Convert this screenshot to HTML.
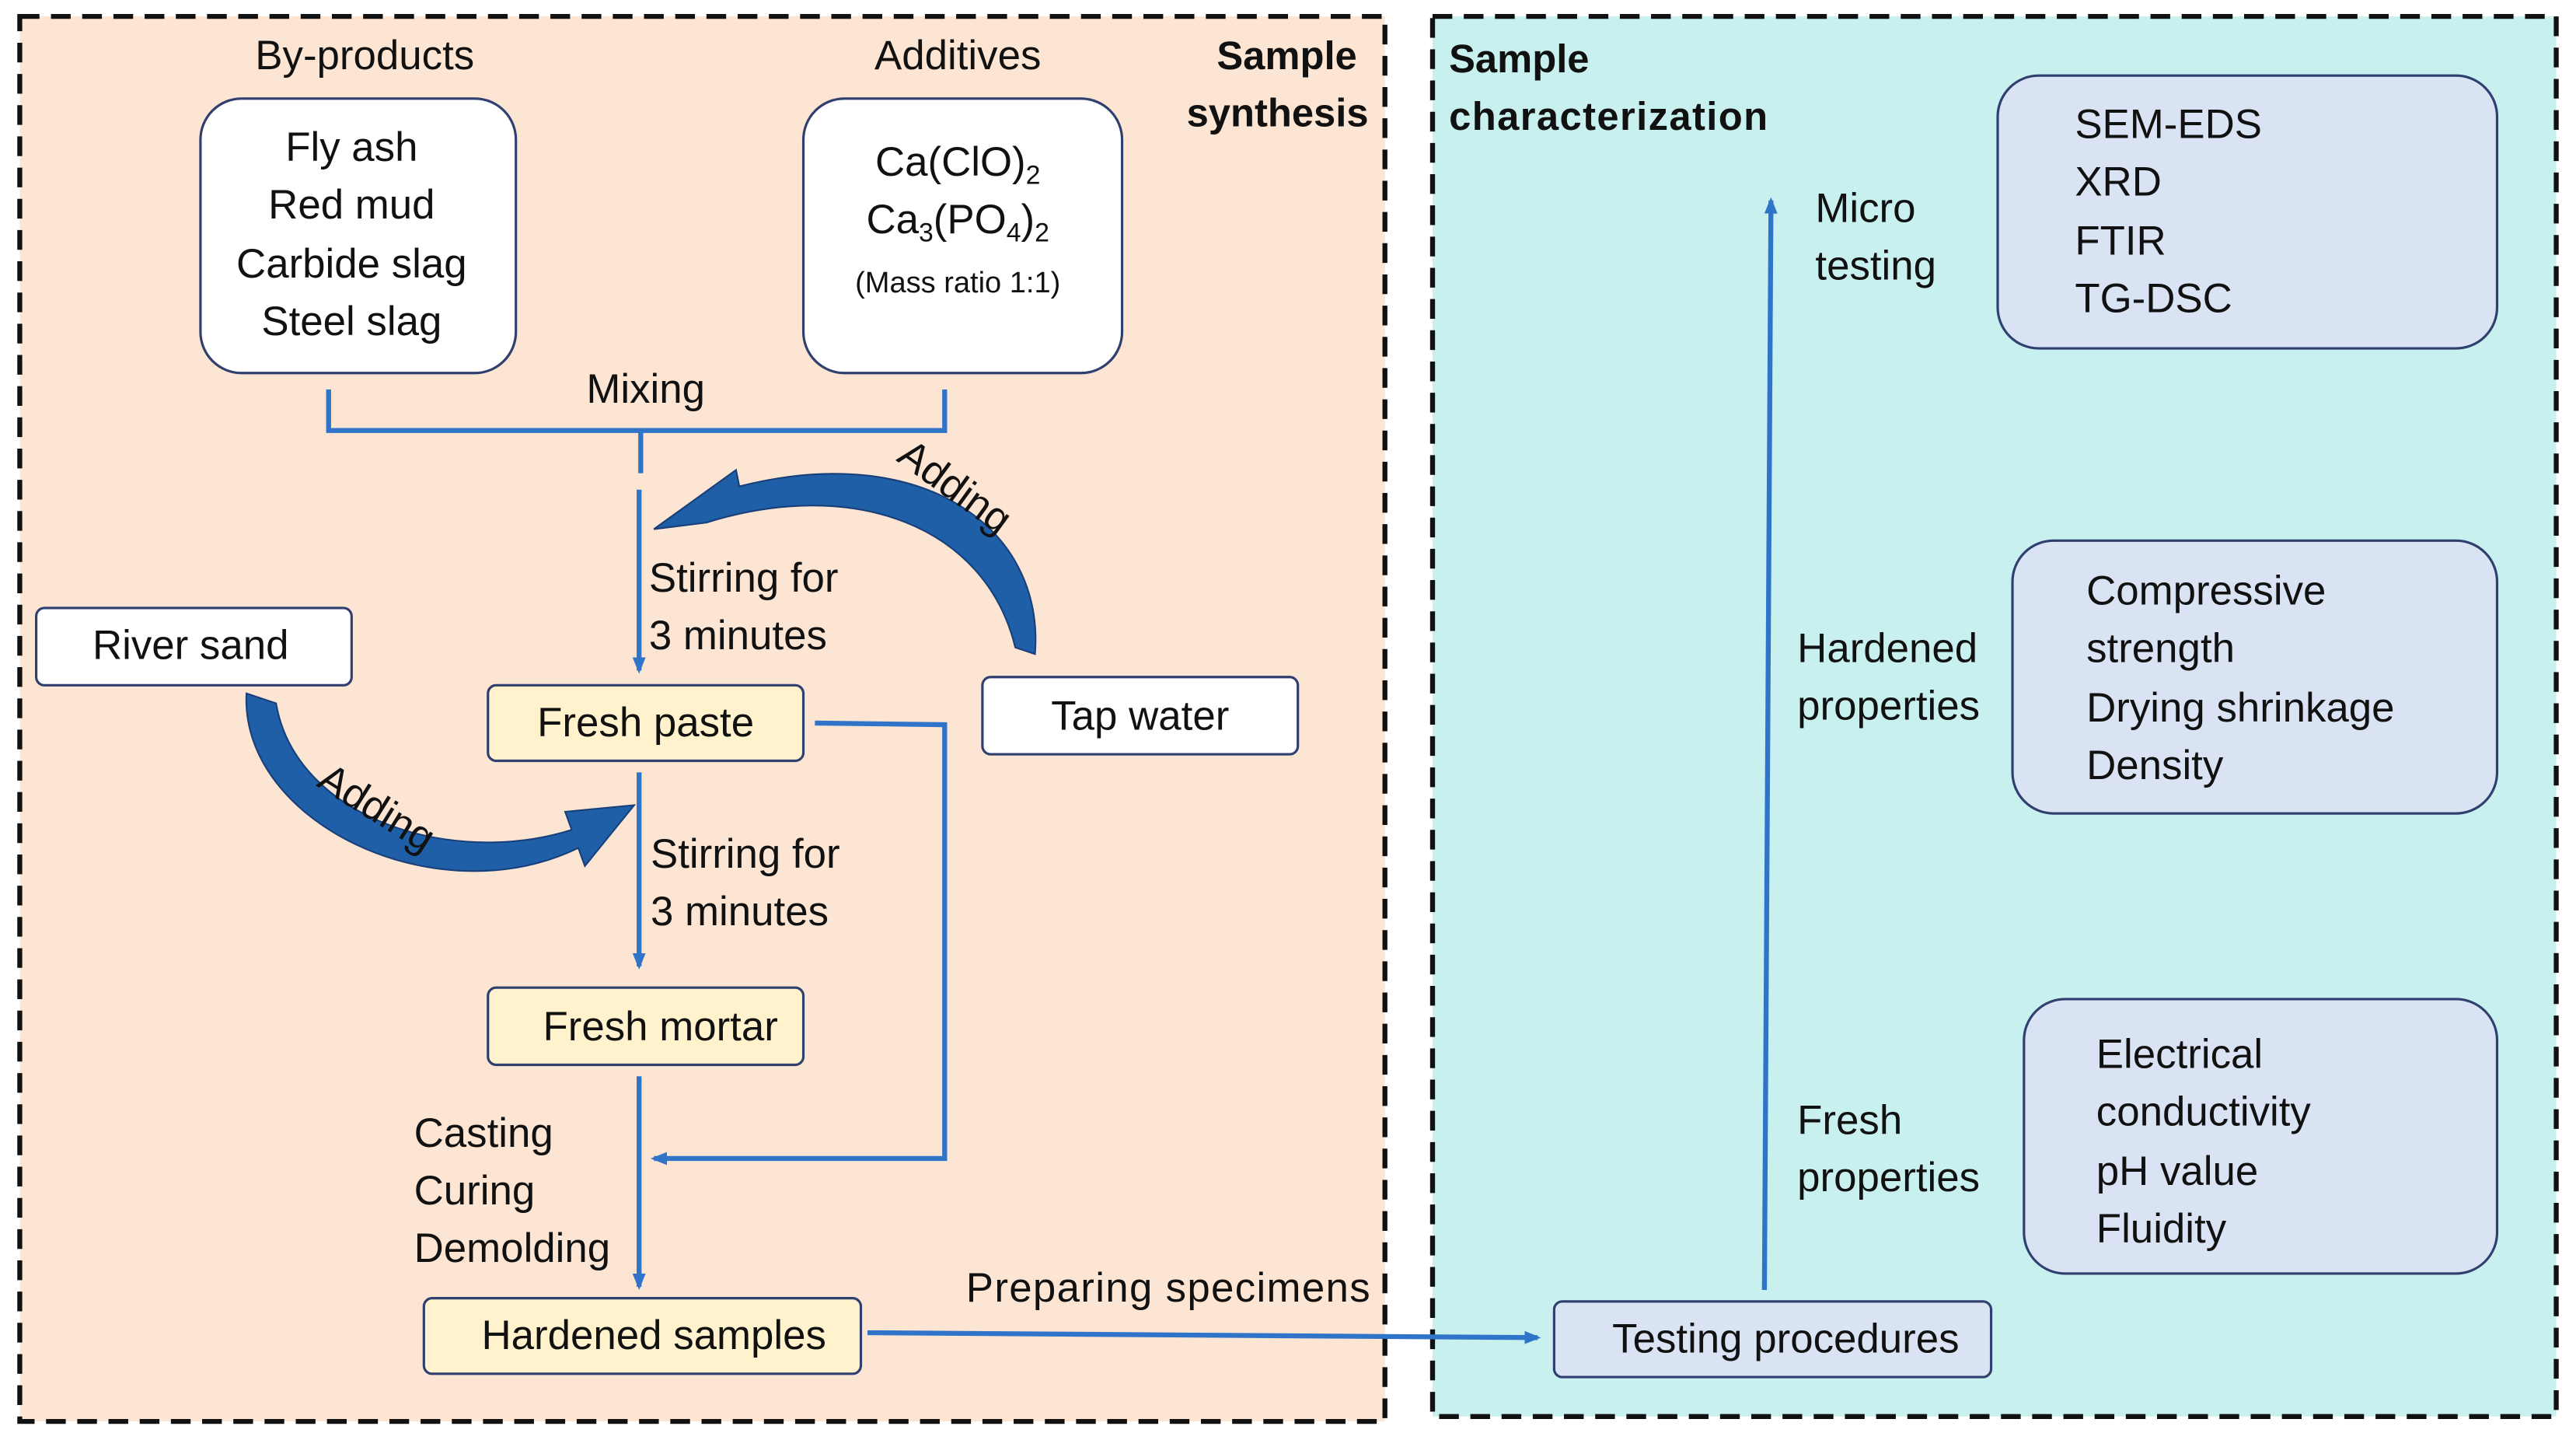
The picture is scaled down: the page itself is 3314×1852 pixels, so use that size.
<!DOCTYPE html>
<html><head><meta charset="utf-8"><style>
html,body{margin:0;padding:0;background:#fff;}
svg{display:block;}
text{font-family:"Liberation Sans",sans-serif;fill:#111;}
</style></head><body>
<svg width="3314" height="1852" viewBox="0 0 1568 876.3" xmlns="http://www.w3.org/2000/svg">
<defs>
<marker id="ah" markerWidth="10" markerHeight="10" refX="8" refY="5" orient="auto" markerUnits="userSpaceOnUse">
<path d="M0,1 L10,5 L0,9 Z" fill="#2f74c9"/>
</marker>
</defs>
<rect x="12" y="10" width="831" height="855" fill="#fde5d3" stroke="#111" stroke-width="3" stroke-dasharray="12,7"/>
<rect x="872" y="10" width="684" height="852" fill="#c8f0ef" stroke="#111" stroke-width="3" stroke-dasharray="12,7"/>

<g font-size="25">
<text x="222" y="42" text-anchor="middle">By-products</text>
<text x="583" y="42" text-anchor="middle">Additives</text>
<text x="826" y="42" text-anchor="end" font-weight="bold" font-size="24">Sample</text>
<text x="833" y="77" text-anchor="end" font-weight="bold" font-size="24">synthesis</text>
<text x="882" y="44" font-weight="bold" font-size="24">Sample</text>
<text x="882" y="79" font-weight="bold" font-size="24" textLength="194">characterization</text>
</g>

<rect x="122" y="60" width="192" height="167" rx="25" fill="#fff" stroke="#2f3f6f" stroke-width="1.5"/>
<rect x="489" y="60" width="194" height="167" rx="25" fill="#fff" stroke="#2f3f6f" stroke-width="1.5"/>
<g font-size="25" text-anchor="middle">
<text x="214" y="98">Fly ash</text>
<text x="214" y="133">Red mud</text>
<text x="214" y="169">Carbide slag</text>
<text x="214" y="204">Steel slag</text>
<text x="583" y="107">Ca(ClO)<tspan font-size="16" dy="5">2</tspan></text>
<text x="583" y="142">Ca<tspan font-size="16" dy="5">3</tspan><tspan dy="-5">(PO</tspan><tspan font-size="16" dy="5">4</tspan><tspan dy="-5">)</tspan><tspan font-size="16" dy="5">2</tspan></text>
<text x="583" y="178" font-size="18">(Mass ratio 1:1)</text>
<text x="393" y="245">Mixing</text>
</g>

<g stroke="#2f74c9" stroke-width="3" fill="none">
<path d="M200,237 V262 H575 V237"/>
<path d="M390,262 V288"/>
<path d="M389,298 V408" marker-end="url(#ah)"/>
<path d="M389,470 V588" marker-end="url(#ah)"/>
<path d="M389,655 V783" marker-end="url(#ah)"/>
<path d="M496,440 L575,441 V705 H398" marker-end="url(#ah)"/>
<path d="M528,811 L936,814" marker-end="url(#ah)"/>
<path d="M1074,785 L1078,122" marker-end="url(#ah)"/>
</g>

<path d="M630,398 C636,320 560,268 450,296 L448,286 L398,322 L430,318 C520,290 600,320 618,394 Z" fill="#1f5fa8" stroke="#17407a" stroke-width="1"/>
<path d="M150,422 C146,500 265,558 352,516 L356,527 L386,490 L344,494 L348,505 C275,528 180,498 168,428 Z" fill="#1f5fa8" stroke="#17407a" stroke-width="1"/>

<g font-size="25">
<text x="0" y="0" transform="translate(545,280) rotate(36)">Adding</text>
<text x="0" y="0" transform="translate(192,478) rotate(32)">Adding</text>
<text x="395" y="360">Stirring for</text>
<text x="395" y="395">3 minutes</text>
<text x="396" y="528">Stirring for</text>
<text x="396" y="563">3 minutes</text>
<text x="252" y="698">Casting</text>
<text x="252" y="733">Curing</text>
<text x="252" y="768">Demolding</text>
<text x="588" y="792" textLength="246">Preparing specimens</text>
<text x="1105" y="135">Micro</text>
<text x="1105" y="170">testing</text>
<text x="1094" y="403">Hardened</text>
<text x="1094" y="438">properties</text>
<text x="1094" y="690">Fresh</text>
<text x="1094" y="725">properties</text>
</g>

<rect x="22" y="370" width="192" height="47" rx="5" fill="#fff" stroke="#2f3f6f" stroke-width="1.5"/>
<rect x="598" y="412" width="192" height="47" rx="5" fill="#fff" stroke="#2f3f6f" stroke-width="1.5"/>
<rect x="297" y="417" width="192" height="46" rx="5" fill="#fff2cc" stroke="#2f3f6f" stroke-width="1.5"/>
<rect x="297" y="601" width="192" height="47" rx="5" fill="#fff2cc" stroke="#2f3f6f" stroke-width="1.5"/>
<rect x="258" y="790" width="266" height="46" rx="5" fill="#fff2cc" stroke="#2f3f6f" stroke-width="1.5"/>
<rect x="946" y="792" width="266" height="46" rx="5" fill="#dae3f3" stroke="#2f3f6f" stroke-width="1.5"/>
<g font-size="25" text-anchor="middle">
<text x="116" y="401">River sand</text>
<text x="694" y="444">Tap water</text>
<text x="393" y="448">Fresh paste</text>
<text x="402" y="633">Fresh mortar</text>
<text x="398" y="821">Hardened samples</text>
<text x="1087" y="823">Testing procedures</text>
</g>

<rect x="1216" y="46" width="304" height="166" rx="25" fill="#dae3f3" stroke="#2f3f6f" stroke-width="1.5"/>
<rect x="1225" y="329" width="295" height="166" rx="25" fill="#dae3f3" stroke="#2f3f6f" stroke-width="1.5"/>
<rect x="1232" y="608" width="288" height="167" rx="25" fill="#dae3f3" stroke="#2f3f6f" stroke-width="1.5"/>
<g font-size="25">
<text x="1263" y="84">SEM-EDS</text>
<text x="1263" y="119">XRD</text>
<text x="1263" y="155">FTIR</text>
<text x="1263" y="190">TG-DSC</text>
<text x="1270" y="368">Compressive</text>
<text x="1270" y="403">strength</text>
<text x="1270" y="439">Drying shrinkage</text>
<text x="1270" y="474">Density</text>
<text x="1276" y="650">Electrical</text>
<text x="1276" y="685">conductivity</text>
<text x="1276" y="721">pH value</text>
<text x="1276" y="756">Fluidity</text>
</g>
</svg>
</body></html>
